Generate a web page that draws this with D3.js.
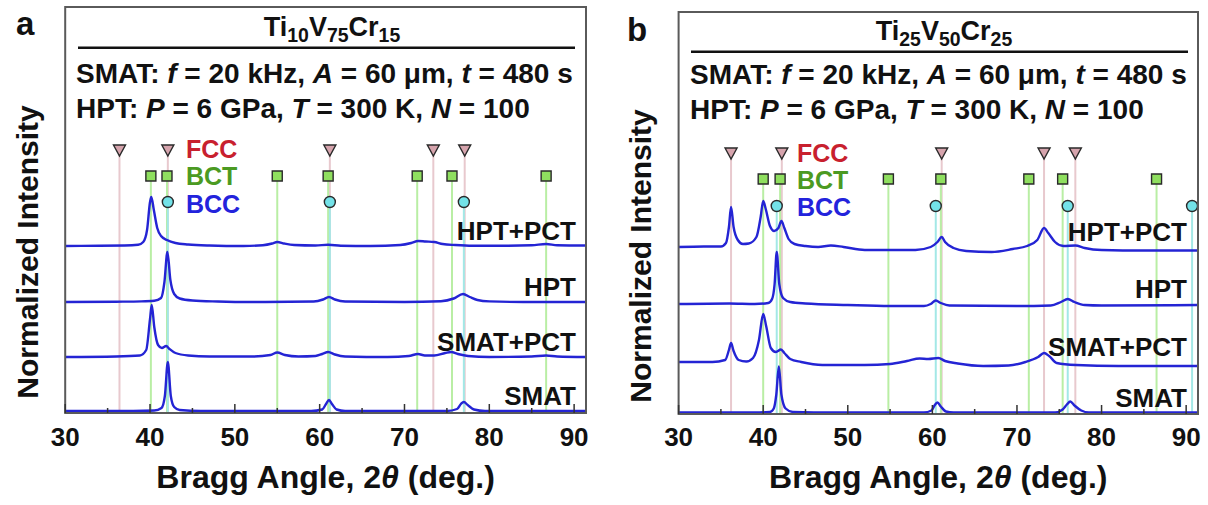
<!DOCTYPE html>
<html>
<head>
<meta charset="utf-8">
<script src="https://cdn.jsdelivr.net/npm/d3@7"></script>
<style>
  body { margin: 0; background: #fff; }
  svg { display: block; font-family: "Liberation Sans", Arial, sans-serif; font-weight: bold; }
</style>
</head>
<body>
<div id="chart"></div>
<script>
// x axis (2theta, deg)
const angleDomain = [30, 91.4];
const majorTicks = [30, 40, 50, 60, 70, 80, 90];
const minorTicks = [35, 45, 55, 65, 75, 85];

const traceLabels = ["HPT+PCT", "HPT", "SMAT+PCT", "SMAT"];
const phaseNames = ["FCC", "BCT", "BCC"];

// reference peak positions per phase (deg)
const fccA = [36.4, 42.1, 61.2, 73.4, 77.1];
const bctA = [40.1, 42.0, 55.0, 61.0, 71.5, 75.6, 86.7];
const bccA = [42.1, 61.2, 77.0];
const fccB = [36.2, 42.2, 61.1, 73.2, 76.9];
const bctB = [40.0, 42.0, 54.8, 61.0, 71.4, 75.4, 86.5];
const bccB = [41.6, 60.4, 76.0, 90.7];

// vertical stacking offset of each trace (same order as traceLabels)
const offsetsA = [167, 111, 56, 2];
const offsetsB = [167, 110, 52, 1.5];

// traces: [2theta, intensity above own baseline]
const aHptPct = [[30,0],[34,0.3],[37,0.5],[38.6,1.2],[39.2,4],[39.65,16],[40.0,44],[40.15,49],[40.45,36],[40.85,18],[41.3,10],[42.0,6],[43,3],[44.5,1.5],[47,0.5],[51,0],[53.3,0.8],[54.4,2.5],[55.0,4],[55.8,2.5],[57,1],[59.5,0.5],[61,1.2],[62.5,0.3],[66,0],[69.5,1],[70.8,3],[71.6,5],[72.5,4.5],[73.5,4],[74.5,2],[76,1],[78,0.3],[82,0.3],[85,0.7],[86.7,2],[88,0.8],[91.4,0.5]];
const aHpt = [[30,0],[36,0.3],[39,0.6],[40.5,1.2],[41.3,4],[41.7,20],[42.05,50],[42.4,22],[42.85,8],[43.5,3.5],[45,1.5],[48,0.5],[52,0],[59.3,0.5],[60.4,2.5],[61.1,5],[61.8,2.5],[63,0.5],[70,0],[74.3,0.8],[75.8,3.5],[76.9,8],[77.7,5],[78.6,2],[80,0.6],[84,0],[91.4,0]];
const aSmatPct = [[30,0],[36,0.5],[38.8,1.5],[39.55,7],[40.0,38],[40.2,52],[40.5,30],[40.95,12],[41.4,9],[41.9,11],[42.3,8],[43,4],[44.5,1.5],[47,0.5],[52,0.5],[54.2,2],[55.0,4.5],[55.9,2],[57.5,0.5],[59.5,1],[60.3,3],[61,5],[61.8,2.5],[63,0.5],[68,0],[70.5,1],[71.6,3],[72.4,1.5],[73.5,1.5],[74.8,4],[75.5,5],[76.3,3],[77.5,1],[80,0],[85,0.5],[86.7,1.5],[88,0.5],[91.4,0]];
const aSmat = [[30,0],[38,0],[40.5,0.5],[41.35,3],[41.75,15],[42.1,49],[42.45,15],[42.85,4],[43.5,1],[46,0],[59,0],[60.3,1.5],[60.75,7],[61.1,11],[61.45,7],[62,1.5],[63,0],[75,0],[76.2,2],[76.65,7],[77.0,9],[77.45,6],[78.2,1.5],[79.5,0],[91.4,0]];

const bHptPct = [[30,0],[33,0.5],[35,0.5],[35.6,4],[35.95,20],[36.2,40],[36.5,20],[37.0,7],[37.6,3],[38.3,3.5],[39.2,10],[39.7,30],[40.0,46],[40.3,38],[40.8,21],[41.3,16],[41.8,19],[42.15,26],[42.5,19],[43.0,8],[43.7,3],[45,1],[46.5,0],[48,1.5],[49.5,0],[52,-3],[55,-3],[58,-3],[59.8,0],[60.6,5],[61.1,10],[61.5,5],[62.5,-1],[64,-4],[67,-5],[69.5,-2],[71.2,1],[72.4,7],[73.2,19],[73.7,14],[74.5,5],[75.5,1],[76.9,1.5],[78,-1],[80,-3],[85,-3.5],[91.4,-3.5]];
const bHpt = [[30,0],[36,0.5],[39,0],[40.6,1],[41.05,5],[41.35,20],[41.6,52],[41.9,20],[42.35,6],[43.2,2],[45,0.5],[50,-1],[55,-2],[59,-2],[59.8,0],[60.4,3.5],[61,1],[62,-1.5],[70,-2],[74,-1.5],[75.2,2],[76.0,5],[76.8,2],[78,-1],[80,-1.5],[91.4,-1]];
const bSmatPct = [[30,0],[34,0],[35.5,2],[35.95,12],[36.2,19],[36.5,11],[37.1,2],[38,0.5],[38.8,4],[39.5,22],[40.0,48],[40.35,36],[40.9,14],[41.5,10],[42.1,12.5],[42.5,9],[43.2,3],[44.5,0],[47,-3],[52,-3],[55,-2],[57,1],[58.5,3.5],[59.5,3],[60.7,4],[61.5,1],[63,-1.5],[66,-4],[69,-3.5],[71,0],[72.5,5],[73.2,9],[73.8,6],[74.7,-1],[77,-3],[82,-4],[91.4,-4]];
const bSmat = [[30,0],[39,0],[40.8,0.5],[41.25,4],[41.55,18],[41.85,46],[42.15,18],[42.65,4],[43.5,0.5],[46,0],[59,0],[59.9,2],[60.25,7],[60.6,10],[61.0,6],[61.6,1],[62.5,0],[74.5,0],[75.4,3],[75.9,8],[76.3,11],[76.8,7],[77.6,2],[78.5,0],[91.4,0]];

// header text: [text, style] with style "" | "i" (italic) | "sub"
const titleA = [["Ti",""],["10","sub"],["V",""],["75","sub"],["Cr",""],["15","sub"]];
const titleB = [["Ti",""],["25","sub"],["V",""],["50","sub"],["Cr",""],["25","sub"]];
const smatLine = [["SMAT: ",""],["f","i"],[" = 20 kHz, ",""],["A","i"],[" = 60 \u03bcm, ",""],["t","i"],[" = 480 s",""]];
const hptLine = [["HPT: ",""],["P","i"],[" = 6 GPa, ",""],["T","i"],[" = 300 K, ",""],["N","i"],[" = 100",""]];

const width = 1208, height = 505;
const traceColor = "#2424d4";
const phaseStyle = {
  FCC: {line: "#e8c9ce", fill: "#d6a4ad", text: "#c8202e", shape: "tri"},
  BCT: {line: "#b9eea4", fill: "#8fdf5f", text: "#4b9a22", shape: "sq"},
  BCC: {line: "#a3e8e6", fill: "#73e2e8", text: "#2323dc", shape: "circ"}
};

const svg = d3.select("#chart").append("svg")
    .attr("width", width)
    .attr("height", height);

function richText(g, x, y, parts, size, anchor) {
  const t = g.append("text")
      .attr("x", x).attr("y", y)
      .attr("font-size", size)
      .attr("text-anchor", anchor || "start")
      .attr("fill", "#111");
  let shifted = false;
  parts.forEach(([s, st]) => {
    const sp = t.append("tspan").text(s);
    if (st === "sub") {
      sp.attr("font-size", size * 0.72).attr("dy", shifted ? 0 : 6);
      shifted = true;
    } else {
      if (shifted) { sp.attr("dy", -6); shifted = false; }
      if (st === "i") sp.attr("font-style", "italic");
    }
  });
  return t;
}

function drawPanel(L, title, phases, traces, offsets) {
  const g = svg.append("g");

  const x = d3.scaleLinear().domain(angleDomain).range([L.x0, L.x1]);
  const y = d3.scaleLinear().domain([0, 400]).range([L.bottom, L.bottom - 400]);

  // phase reference lines
  const rowOf = {FCC: L.rows[0], BCT: L.rows[1], BCC: L.rows[2]};
  phaseNames.forEach(name => {
    g.append("g").selectAll("line")
      .data(phases[name])
      .join("line")
        .attr("x1", d => x(d)).attr("x2", d => x(d))
        .attr("y1", y(rowOf[name])).attr("y2", L.bottom)
        .attr("stroke", phaseStyle[name].line)
        .attr("stroke-width", 2);
  });

  // XRD traces
  const line = d3.line()
      .x(d => x(d[0]))
      .y(d => d[1])
      .curve(d3.curveMonotoneX);
  traces.forEach((tr, i) => {
    g.append("path")
      .attr("d", line(tr.map(p => [p[0], y(p[1] + offsets[i])])))
      .attr("fill", "none")
      .attr("stroke", traceColor)
      .attr("stroke-width", 2.4)
      .attr("stroke-linejoin", "round");
    g.append("text")
      .attr("x", L.labelX)
      .attr("y", y(offsets[i]) - 6)
      .attr("text-anchor", "end")
      .attr("font-size", 26)
      .attr("fill", "#111")
      .text(traceLabels[i]);
  });

  // phase markers
  phaseNames.forEach(name => {
    const st = phaseStyle[name];
    const yy = y(rowOf[name]);
    const sel = g.append("g").selectAll("path")
      .data(phases[name])
      .join("path")
        .attr("fill", st.fill)
        .attr("stroke", "#2a2a2a")
        .attr("stroke-width", 1.4);
    if (st.shape === "tri") {
      sel.attr("d", d => `M${x(d) - 6},${yy - 5}L${x(d) + 6},${yy - 5}L${x(d)},${yy + 6}Z`);
    } else if (st.shape === "sq") {
      sel.attr("d", d => `M${x(d) - 5},${yy - 5}h10v10h-10Z`);
    } else {
      sel.attr("d", d => d3.arc()({innerRadius: 0, outerRadius: 5.5, startAngle: 0, endAngle: 2 * Math.PI}))
        .attr("transform", d => `translate(${x(d)},${yy})`);
    }
  });

  // legend
  phaseNames.forEach((name, i) => {
    g.append("text")
      .attr("x", L.legendX)
      .attr("y", L.legendY[i])
      .attr("font-size", 25)
      .attr("fill", phaseStyle[name].text)
      .text(name);
  });

  // frame
  g.append("rect")
    .attr("x", L.x0).attr("y", L.top)
    .attr("width", L.x1 - L.x0).attr("height", L.bottom - L.top)
    .attr("fill", "none")
    .attr("stroke", "#5a5a5a")
    .attr("stroke-width", 2);

  // ticks (pointing inward) and labels
  g.append("g").selectAll("line.major")
    .data(majorTicks)
    .join("line")
      .attr("x1", d => x(d)).attr("x2", d => x(d))
      .attr("y1", L.bottom).attr("y2", L.bottom - 9)
      .attr("stroke", "#333").attr("stroke-width", 1.5);
  g.append("g").selectAll("line.minor")
    .data(minorTicks)
    .join("line")
      .attr("x1", d => x(d)).attr("x2", d => x(d))
      .attr("y1", L.bottom).attr("y2", L.bottom - 5)
      .attr("stroke", "#333").attr("stroke-width", 1.5);
  g.append("g").selectAll("text")
    .data(majorTicks)
    .join("text")
      .attr("x", d => x(d))
      .attr("y", 446)
      .attr("text-anchor", "middle")
      .attr("font-size", 26)
      .attr("fill", "#111")
      .text(d => d);

  // axis titles
  richText(g, (L.x0 + L.x1) / 2, 488, [["Bragg Angle, 2",""],["\u03b8","i"],["  (deg.)",""]], 32, "middle");
  g.append("text")
    .attr("transform", `translate(${L.ylabX},${L.ylabY}) rotate(-90)`)
    .attr("text-anchor", "middle")
    .attr("font-size", 30)
    .attr("fill", "#111")
    .text("Normalized Intensity");

  // panel letter
  g.append("text")
    .attr("x", L.letterX).attr("y", L.letterY)
    .attr("font-size", 33)
    .attr("fill", "#111")
    .text(L.letter);

  // header box content
  richText(g, L.titleX, L.titleY, title, 27, "middle");
  g.append("line")
    .attr("x1", L.ruleX0).attr("x2", L.ruleX1)
    .attr("y1", L.ruleY).attr("y2", L.ruleY)
    .attr("stroke", "#111").attr("stroke-width", 2.5);
  richText(g, L.lineX, L.line1Y, smatLine, 28);
  richText(g, L.lineX, L.line2Y, hptLine, 28);
}

const layoutA = {x0: 65.2, x1: 586, top: 7, bottom: 413, letter: "a", letterX: 16, letterY: 35,
  titleX: 332, titleY: 36, ruleY: 47.7, ruleX0: 78, ruleX1: 575, lineX: 76, line1Y: 83, line2Y: 118,
  rows: [263, 237, 211], legendX: 186, legendY: [158, 185, 213], labelX: 576, ylabX: 38, ylabY: 252};
const layoutB = {x0: 678.6, x1: 1198, top: 12, bottom: 414, letter: "b", letterX: 627, letterY: 41,
  titleX: 944, titleY: 40, ruleY: 51.7, ruleX0: 691, ruleX1: 1188, lineX: 690, line1Y: 84, line2Y: 119,
  rows: [261, 235, 208], legendX: 797, legendY: [162, 189, 216], labelX: 1187, ylabX: 651, ylabY: 256};

drawPanel(layoutA, titleA, {FCC: fccA, BCT: bctA, BCC: bccA}, [aHptPct, aHpt, aSmatPct, aSmat], offsetsA);
drawPanel(layoutB, titleB, {FCC: fccB, BCT: bctB, BCC: bccB}, [bHptPct, bHpt, bSmatPct, bSmat], offsetsB);
</script>
</body>
</html>
